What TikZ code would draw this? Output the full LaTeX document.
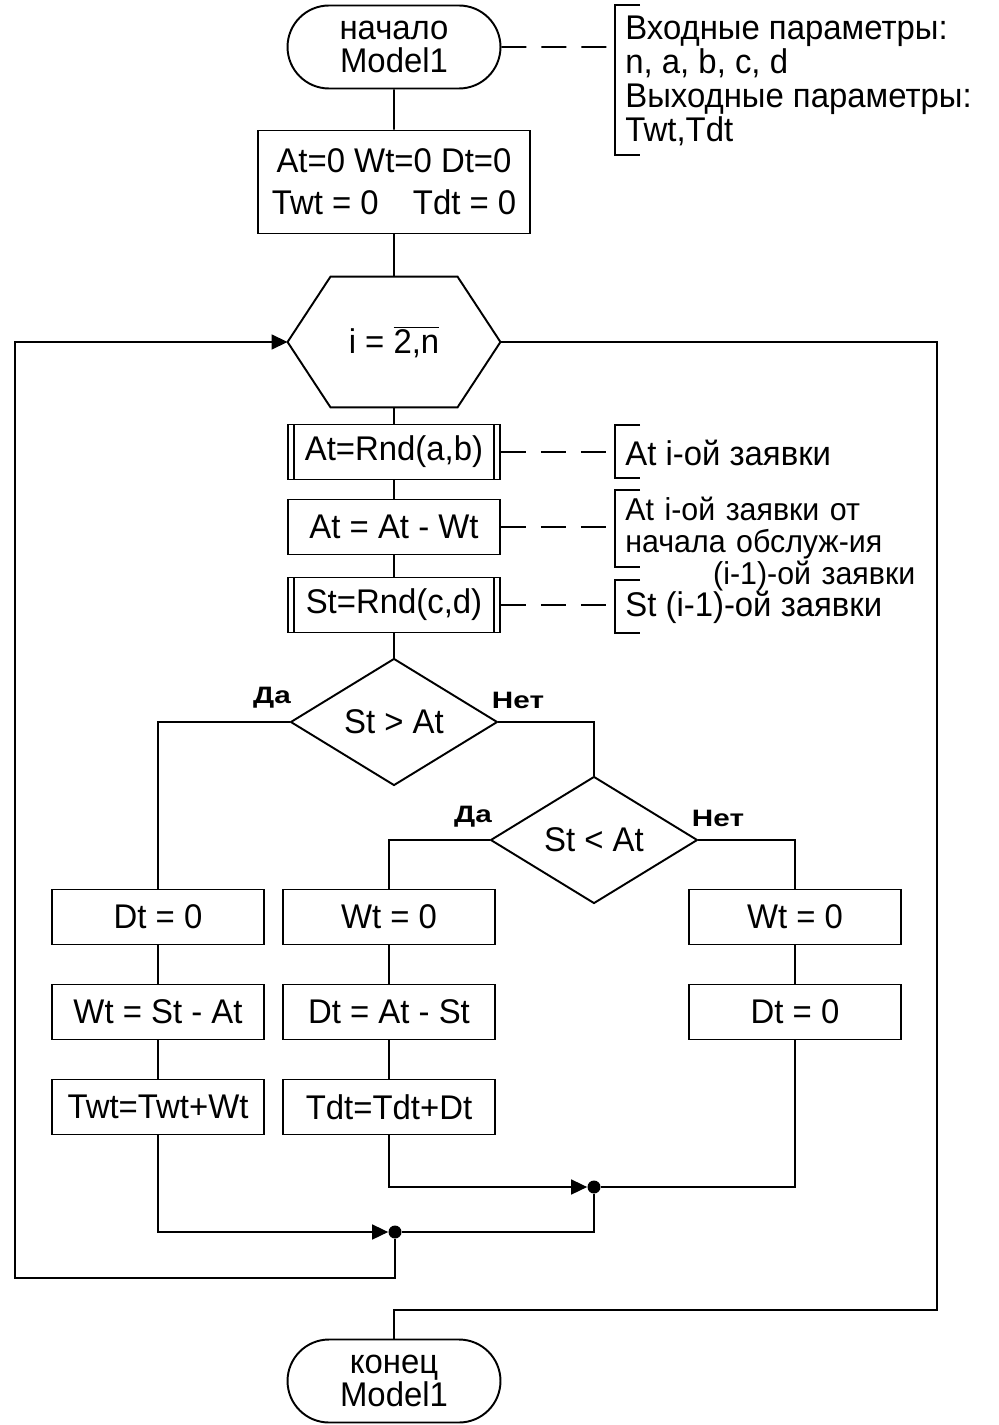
\documentclass[tikz,border=0pt]{standalone}
\usepackage{fontspec}
\setmainfont{Liberation Sans}[FakeStretch=0.96]
\newfontfamily\etiqfont{Liberation Sans}[FakeStretch=1.25]
\usetikzlibrary{shapes.geometric,shapes.misc,arrows.meta}
\tikzset{
  base/.style={draw, line width=1.1pt, align=center, inner sep=0pt, font=\fontsize{19.5}{19}\selectfont},
  term/.style={base, rounded rectangle, minimum width=4.26cm, minimum height=1.66cm},
  proc/.style={base, rectangle, minimum width=4.24cm, minimum height=1.1cm},
  subproc/.style={proc, path picture={
      \draw[line width=1.1pt] ([xshift=0.12cm]path picture bounding box.north west) -- ([xshift=0.12cm]path picture bounding box.south west)
        ([xshift=-0.12cm]path picture bounding box.north east) -- ([xshift=-0.12cm]path picture bounding box.south east);}},
  cond/.style={base, diamond, aspect=1.63, minimum width=4.14cm, minimum height=2.54cm},
  nota/.style={align=left, anchor=west, inner sep=0pt, font=\fontsize{19.5}{19.3}\selectfont},
  etiq/.style={inner sep=0pt, font=\etiqfont\fontsize{13.5}{15}\selectfont\bfseries},
  union/.style={circle, fill, inner sep=0pt, minimum size=0.26cm},
  enlace/.style={line width=0.9pt},
  flecha/.style={enlace, -{Triangle[length=0.32cm, width=0.3cm]}},
  comentario/.style={enlace, dash pattern=on 0.5cm off 0.3cm}
}
\begin{document}
\begin{tikzpicture}[x=0.02cm, y=-0.02cm]
			\useasboundingbox (0,0) rectangle (998,1425);
			% Inicio y valores iniciales
			\node[term] (inicio) at (394,47) {начало\\Model1};
			\node[proc, minimum width=5.44cm, minimum height=2.06cm, font=\fontsize{19.5}{24}\selectfont] (ceros) at (394,182) {At=0 Wt=0 Dt=0\\Twt = 0\quad Tdt = 0};
			% Ciclo (hexágono)
			\node[base, draw=none, minimum width=4.22cm, minimum height=2.58cm] (ciclo) at (394,342) {i = $\overline{\mbox{2,n}}$};
			\draw[line width=1.1pt] (ciclo.west) -- ([xshift=0.86cm]ciclo.north west) -- ([xshift=-0.86cm]ciclo.north east) -- (ciclo.east)
				-- ([xshift=-0.86cm]ciclo.south east) -- ([xshift=0.86cm]ciclo.south west) -- cycle;
			% Cuerpo del ciclo
			\node[subproc] (rnda) at (394,452) {At=Rnd(a,b)};
			\node[proc] (resta) at (394,527) {At = At - Wt};
			\node[subproc] (rndc) at (394,605) {St=Rnd(c,d)};
			\node[cond] (mayor) at (394,722) {St > At};
			\node[cond] (menor) at (594,840) {St < At};
			\node[etiq] (si1) at (272,698) {Да};
			\node[etiq] (no1) at (518,700) {Нет};
			\node[etiq] (si2) at (473,817) {Да};
			\node[etiq] (no2) at (718,818) {Нет};
			% Ramas
			\node[proc] (izq1) at (158,917) {Dt = 0};
			\node[proc] (izq2) at (158,1012) {Wt = St - At};
			\node[proc] (izq3) at (158,1107) {Twt=Twt+Wt};
			\node[proc] (cen1) at (389,917) {Wt = 0};
			\node[proc] (cen2) at (389,1012) {Dt = At - St};
			\node[proc] (cen3) at (389,1107) {Tdt=Tdt+Dt};
			\node[proc] (der1) at (795,917) {Wt = 0};
			\node[proc] (der2) at (795,1012) {Dt = 0};
			\node[union] (u1) at (594,1187) {};
			\node[union] (u2) at (395,1232) {};
			\node[term] (fin) at (394,1381) {конец\\Model1};
			% Comentarios
			\node[nota] (com1) at (625,81) {Входные параметры:\\n, a, b, c, d\\Выходные параметры:\\Twt,Tdt};
			\node[nota] (com2) at (625,453) {At i-ой заявки};
			\node[nota, text width=5.8cm, font=\fontsize{18}{18}\selectfont] (com3) at (625,544) {At i-ой заявки от\\начала обслуж-ия\\\hspace*{\fill}(i-1)-ой заявки};
			\node[nota] (com4) at (625,607) {St (i-1)-ой заявки};
			\draw[enlace] (640,5) -| (615,155) -- (640,155);
			\draw[enlace] (640,425) -| (615,478) -- (640,478);
			\draw[enlace] (640,490) -| (615,567) -- (640,567);
			\draw[enlace] (640,580) -| (615,633) -- (640,633);
			\coordinate (c1) at (615,47);
			\coordinate (c2) at (615,452);
			\coordinate (c3) at (615,527);
			\coordinate (c4) at (615,605);
			\draw[comentario] (inicio) -- (c1);
			\draw[comentario] (rnda) -- (c2);
			\draw[comentario] (resta) -- (c3);
			\draw[comentario] (rndc) -- (c4);
			% Conexiones
			\draw[enlace] (inicio) -- (ceros);
			\draw[enlace] (ceros) -- (ciclo.north);
			\draw[enlace] (ciclo.south) -- (rnda);
			\draw[enlace] (rnda) -- (resta);
			\draw[enlace] (resta) -- (rndc);
			\draw[enlace] (rndc) -- (mayor);
			\draw[enlace] (mayor.west) -| (izq1);
			\draw[enlace] (mayor.east) -| (menor.north);
			\draw[enlace] (menor.west) -| (cen1);
			\draw[enlace] (menor.east) -| (der1);
			\draw[enlace] (izq1) -- (izq2) -- (izq3);
			\draw[enlace] (cen1) -- (cen2) -- (cen3);
			\draw[enlace] (der1) -- (der2);
			\draw[flecha] (cen3) |- (u1);
			\draw[enlace] (der2) |- (u1);
			\draw[flecha] (izq3) |- (u2);
			\draw[enlace] (u1) |- (u2);
			% Retorno al ciclo y salida
			\coordinate (retorno) at (15,1278);
			\coordinate (salida) at (937,1310);
			\draw[flecha] (u2) |- (retorno) |- (ciclo.west);
			\draw[enlace] (ciclo.east) -| (salida) -| (fin);
		\end{tikzpicture}
\end{document}
